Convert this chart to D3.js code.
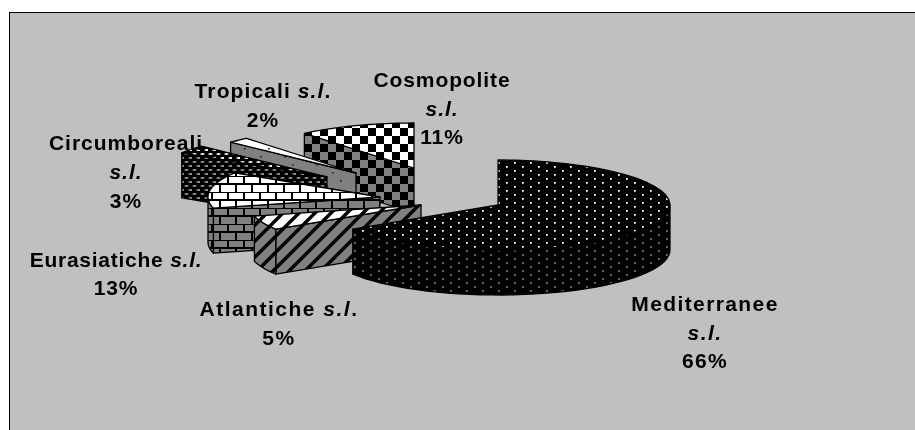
<!DOCTYPE html>
<html><head><meta charset="utf-8">
<script src="https://cdn.jsdelivr.net/npm/d3@7"></script>
<style>html,body{margin:0;padding:0;background:#fff}svg{display:block}
text{font-family:"Liberation Sans",Arial,sans-serif;font-weight:700;font-size:21px;fill:#000}</style>
</head><body><svg id="c" width="915" height="430"></svg>
<script>
const categories=["Mediterranee","Atlantiche","Eurasiatiche","Circumboreali","Tropicali","Cosmopolite"];
const values=[66,5,13,3,2,11];
const percentLabels=["66%","5%","13%","3%","2%","11%"];
// layout (not data): slice apex positions on the page after explosion
const apexX=[498,421,380,327,356,414];
const apexY=[205,205,197,177,173,168];
const labelLines=[
 [[["Mediterranee",0]],[["s.l.",1]],[["66%",0]]],
 [[["Atlantiche ",0],["s.l",1],[".",0]],[["5%",0]]],
 [[["Eurasiatiche ",0],["s.l.",1]],[["13%",0]]],
 [[["Circumboreali",0]],[["s.l.",1]],[["3%",0]]],
 [[["Tropicali ",0],["s.l",1],[".",0]],[["2%",0]]],
 [[["Cosmopolite",0]],[["s.l.",1]],[["11%",0]]]
];
const labelX=[705,279,116,126,263,442];
const labelY=[311,316,267,150,98,87];
const lineGap=[28.5,29,28,29,29,28.5];
const spacing=[1.4,1.5,.75,1,1.1,.9];

const rx=172,ry=45,depth=45;
const svg=d3.select("#c");
const defs=svg.append("defs");
defs.append("filter").attr("id","soft").attr("x","-5%").attr("y","-5%").attr("width","110%").attr("height","110%")
  .append("feGaussianBlur").attr("stdDeviation",0.45);
defs.append("filter").attr("id","softT").attr("x","-5%").attr("y","-5%").attr("width","110%").attr("height","110%")
  .append("feGaussianBlur").attr("stdDeviation",0.3);
function pat(id,w,h,bg,draw){
  const p=defs.append("pattern").attr("id",id).attr("patternUnits","userSpaceOnUse").attr("width",w).attr("height",h);
  p.append("rect").attr("width",w).attr("height",h).attr("fill",bg);
  draw(p);
}
function dots(col){return p=>{
  [[2,2],[10,6]].forEach(c=>p.append("rect").attr("x",c[0]).attr("y",c[1]).attr("width",1.8).attr("height",1.8).attr("fill",col));
}}
pat("medTop",16,8,"#000",dots("#fff"));
pat("medSide",16,8,"#000",dots("#777"));
function circ(col){return p=>{
  [[1,1],[5,5]].forEach(c=>p.append("ellipse").attr("cx",c[0]+1.5).attr("cy",c[1]+1).attr("rx",2.2).attr("ry",1.1).attr("fill",col));
}}
pat("cirTop",8,8,"#000",circ("#eee"));
pat("cirSide",8,8,"#000",circ("#8a8a8a"));
function check(p){
  p.append("rect").attr("width",8).attr("height",8).attr("fill","#000");
  p.append("rect").attr("x",8).attr("y",8).attr("width",8).attr("height",8).attr("fill","#000");
}
pat("cosTop",16,16,"#fff",check);
pat("cosSide",16,16,"#808080",check);
function brick(p){
  const l=[[0,0,16,0],[0,8,16,8],[4,0,4,8],[12,8,12,16]];
  l.forEach(d=>p.append("line").attr("x1",d[0]).attr("y1",d[1]).attr("x2",d[2]).attr("y2",d[3]).attr("stroke","#000").attr("stroke-width",2));
}
pat("eurTop",16,16,"#fff",brick);
pat("eurSide",16,16,"#808080",brick);
function diag(p){
  p.append("path").attr("d","M-4,4L4,-4M0,16L16,0M12,20L20,12").attr("stroke","#000").attr("stroke-width",3.4);
}
pat("atlTop",16,16,"#fff",diag);
pat("atlSide",16,16,"#808080",diag);
function sparse(p){
  [[4,4],[20,12]].forEach(c=>p.append("rect").attr("x",c[0]).attr("y",c[1]).attr("width",1.6).attr("height",1.6).attr("fill","#222"));
}
pat("troTop",24,16,"#fff",sparse);
pat("troSide",24,16,"#808080",sparse);
const tops=["medTop","atlTop","eurTop","cirTop","troTop","cosTop"];
const sides=["medSide","atlSide","eurSide","cirSide","troSide","cosSide"];

svg.append("rect").attr("x",9.5).attr("y",12.5).attr("width",910).attr("height",430).attr("fill","#c0c0c0").attr("stroke","#000").attr("stroke-width",1);

const arcs=d3.pie().sort(null).value(d=>d)(values);
const pt=(i,a)=>[apexX[i]+rx*Math.sin(a),apexY[i]-ry*Math.cos(a)];
const line=d3.line();
function arcPts(i,a0,a1){return d3.range(0,41).map(k=>pt(i,a0+(a1-a0)*k/40));}
const drawOrder=[5,4,3,2,1,0];
const pie=svg.append("g").attr("filter","url(#soft)");
function face(pts,fill){
  pie.append("path").attr("d",line(pts)+"Z").attr("fill","url(#"+fill+")")
    .attr("stroke","#000").attr("stroke-width",1.3).attr("stroke-linejoin","round");
}
drawOrder.forEach(i=>{
  const a=arcs[i];
  const [ax,ay]=[apexX[i],apexY[i]];
  if(i!==0){
    const p=pt(i,a.startAngle);
    face([[ax,ay],p,[p[0],p[1]+depth],[ax,ay+depth]],sides[i]);
  }
  const w0=Math.max(a.startAngle,Math.PI/2),w1=Math.min(a.endAngle,3*Math.PI/2);
  if(w1>w0){
    const up=arcPts(i,w0,w1);
    const down=up.map(q=>[q[0],q[1]+depth]).reverse();
    face(up.concat(down),sides[i]);
  }
  face([[ax,ay]].concat(arcPts(i,a.startAngle,a.endAngle)),tops[i]);
});

const labels=svg.append("g").attr("filter","url(#softT)");
categories.forEach((c,i)=>{
  labelLines[i].forEach((r,j)=>{
    const t=labels.append("text").attr("x",labelX[i]).attr("y",labelY[i]+j*lineGap[i]).attr("text-anchor","middle").style("letter-spacing",spacing[i]+"px");
    r.forEach(s=>t.append("tspan").attr("font-style",s[1]?"italic":"normal").text(s[0]));
  });
});
</script></body></html>
